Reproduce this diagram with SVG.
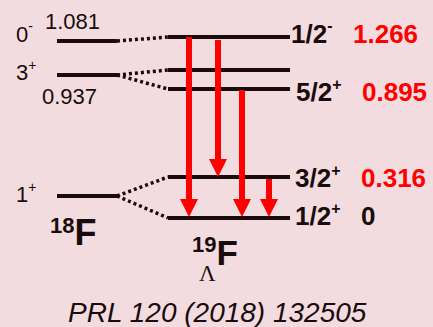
<svg xmlns="http://www.w3.org/2000/svg" width="433" height="327" viewBox="0 0 433 327">
<defs>
<style>
.lvl{stroke:#1a0c0c;stroke-width:4;fill:none}
.dot{stroke:#1a0c0c;stroke-width:3.5;stroke-dasharray:3 3;fill:none}
.arr{stroke:#ff0000;stroke-width:6;fill:none;marker-end:url(#ah)}
.t{font-family:"Liberation Sans",Arial,sans-serif;fill:#1a0c0c}
.b{font-weight:bold}
.r{fill:#ff0000}
</style>
<marker id="ah" markerUnits="userSpaceOnUse" markerWidth="18" markerHeight="18" viewBox="0 0 18 18" refX="8" refY="9" orient="auto">
<path d="M0,0 L18,9 L0,18 Z" fill="#ff0000"/>
</marker>
</defs>
<rect width="433" height="327" fill="#f2dcdf"/>
<g id="f18-0m">
<line class="lvl" x1="57" y1="41" x2="117" y2="41"/>
<text class="t" x="16" y="42" font-size="22">0<tspan dy="-11" font-size="14">-</tspan></text>
<text class="t" x="45" y="29" font-size="22">1.081</text>
</g>
<g id="f18-3p">
<line class="lvl" x1="57" y1="75" x2="117" y2="75"/>
<text class="t" x="16" y="80" font-size="22">3<tspan dy="-10" font-size="14">+</tspan></text>
<text class="t" x="42" y="104" font-size="22">0.937</text>
</g>
<g id="f18-1p">
<line class="lvl" x1="57" y1="196" x2="117" y2="196"/>
<text class="t" x="16" y="202" font-size="22">1<tspan dy="-10" font-size="14">+</tspan></text>
</g>
<g id="f18-label">
<text class="t b" x="50" y="245"><tspan font-size="22" dy="-12">18</tspan><tspan font-size="36" dy="12">F</tspan></text>
</g>
<g id="l19-12m">
<line class="lvl" x1="168" y1="37" x2="290" y2="37"/>
<text class="t b" x="291" y="43" font-size="26">1/2<tspan dy="-12" font-size="16">-</tspan></text>
<text class="t b r" x="353" y="43" font-size="26">1.266</text>
</g>
<g id="l19-mid">
<line class="lvl" x1="168" y1="70" x2="290" y2="70"/>
</g>
<g id="l19-52p">
<line class="lvl" x1="168" y1="89" x2="290" y2="89"/>
<text class="t b" x="296" y="101" font-size="26">5/2<tspan dy="-11" font-size="16">+</tspan></text>
<text class="t b r" x="362" y="101" font-size="26">0.895</text>
</g>
<g id="l19-32p">
<line class="lvl" x1="168" y1="177" x2="290" y2="177"/>
<text class="t b" x="295" y="187" font-size="26">3/2<tspan dy="-11" font-size="16">+</tspan></text>
<text class="t b r" x="361" y="187" font-size="26">0.316</text>
</g>
<g id="l19-12p">
<line class="lvl" x1="168" y1="218" x2="290" y2="218"/>
<text class="t b" x="295" y="225" font-size="26">1/2<tspan dy="-11" font-size="16">+</tspan></text>
<text class="t b" x="361" y="225" font-size="26">0</text>
</g>
<g id="l19-label">
<text class="t b" x="192" y="265"><tspan font-size="22" dy="-13">19</tspan><tspan font-size="35" dy="13">F</tspan></text>
<text x="199" y="281" font-size="23" font-family="Liberation Serif,'Times New Roman',serif" fill="#1a0c0c">Λ</text>
</g>
<g id="connectors">
<line class="dot" x1="117" y1="41" x2="168" y2="37"/>
<line class="dot" x1="117" y1="75" x2="168" y2="70"/>
<line class="dot" x1="117" y1="75" x2="168" y2="89"/>
<line class="dot" x1="117" y1="196" x2="168" y2="177"/>
<line class="dot" x1="117" y1="196" x2="168" y2="218"/>
<line class="arr" x1="189" y1="37" x2="189" y2="207"/>
<line class="arr" x1="218" y1="40" x2="218" y2="167"/>
<line class="arr" x1="242" y1="90" x2="242" y2="207"/>
<line class="arr" x1="269" y1="179" x2="269" y2="207"/>
</g>
<text class="t" x="68" y="322" font-size="28" font-style="italic">PRL 120 (2018) 132505</text>
</svg>
